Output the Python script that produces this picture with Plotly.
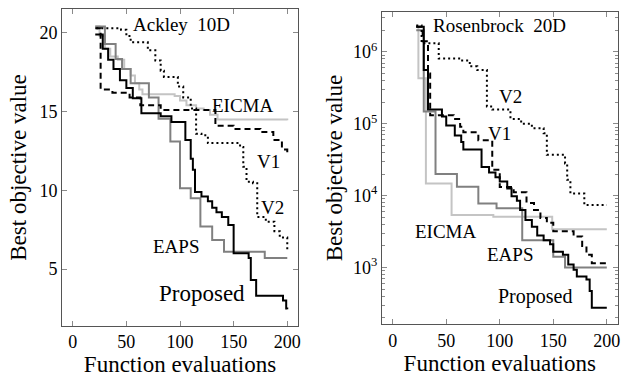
import plotly.graph_objects as go

# ---------------- Data: Ackley 10D (left) ----------------
ack_prop_x = [21, 28, 33, 38, 44, 50, 56, 64, 82, 92, 105, 110, 112, 114, 120, 126, 130, 134, 139, 145, 150, 164, 166, 171, 196, 199, 200]
ack_prop_y = [19.9, 19.0, 18.3, 17.7, 17.0, 16.5, 15.85, 14.9, 14.7, 14.34, 13.2, 12.0, 11.3, 9.9, 9.6, 9.3, 8.9, 8.6, 8.3, 7.8, 6.0, 5.7, 4.3, 3.3, 3.0, 2.5, 2.45]

ack_eaps_x = [21, 30, 40, 46, 54, 71, 80, 91, 100, 110, 119, 130, 141, 179, 200]
ack_eaps_y = [20.4, 19.3, 18.35, 17.7, 16.8, 15.9, 14.55, 13.1, 10.13, 9.5, 7.7, 6.85, 6.1, 5.7, 5.7]

ack_eicma_x = [21, 25, 30, 35, 42, 48, 54, 58, 62, 65, 95, 100, 106, 115, 122, 128, 135, 200]
ack_eicma_y = [20.4, 19.8, 19.0, 18.5, 18.3, 17.7, 17.3, 16.8, 16.4, 16.1, 16.0, 15.7, 15.4, 15.2, 15.1, 14.8, 14.5, 14.45]

ack_v1_x = [21, 26, 37, 53, 63, 82, 133, 150, 175, 187, 195, 200]
ack_v1_y = [20.3, 16.4, 16.2, 15.9, 15.4, 15.1, 14.1, 13.9, 13.7, 13.2, 12.6, 12.4]

ack_v2_x = [22, 45, 50, 54, 62, 70, 77, 82, 85, 95, 98, 103, 110, 115, 120, 126, 156, 159, 162, 168, 172, 180, 188, 193, 200]
ack_v2_y = [20.3, 20.2, 19.8, 19.4, 19.4, 18.9, 18.25, 17.6, 17.2, 17.2, 16.6, 15.9, 15.2, 13.6, 13.5, 13.0, 12.76, 11.5, 10.55, 10.45, 8.3, 8.0, 7.4, 7.0, 6.1]

# ---------------- Data: Rosenbrock 20D (right) ----------------
ros_prop_x = [22, 29, 33, 46, 50, 58, 64, 66, 83, 90, 96, 100, 107, 111, 116, 119, 124, 130, 135, 141, 147, 150, 159, 164, 169, 172, 181, 184, 186, 200]
ros_prop_y = [2.24e6, 5.6e5, 1.58e5, 1.26e5, 9.5e4, 6.9e4, 5.6e4, 4.4e4, 2.5e4, 2.1e4, 1.8e4, 1.58e4, 1.26e4, 9.8e3, 8.5e3, 6.3e3, 4.6e3, 3.7e3, 2.8e3, 2.4e3, 2.1e3, 1.66e3, 1.5e3, 1.1e3, 930, 750, 680, 470, 275, 275]

ros_eaps_x = [22, 29, 40, 60, 80, 97, 121, 150, 161, 200]
ros_eaps_y = [2.0e6, 1.48e5, 2.0e4, 1.33e4, 7.8e3, 6.7e3, 2.4e3, 1.41e3, 1.0e3, 1.0e3]

ros_eicma_x = [22, 24, 31, 55, 94, 149, 200]
ros_eicma_y = [2.24e6, 4.3e5, 1.48e4, 5.4e3, 5.1e3, 3.4e3, 3.4e3]

ros_v1_x = [22, 28, 33, 35, 57, 63, 66, 80, 93, 100, 113, 125, 132, 138, 144, 150, 169, 177, 181, 186, 200]
ros_v1_y = [2.24e6, 1.41e6, 5.0e5, 1.32e5, 1.17e5, 9.1e4, 7.6e4, 5.9e4, 2.3e4, 1.32e4, 1.12e4, 7.9e3, 6.3e3, 4.9e3, 4.2e3, 3.2e3, 2.7e3, 2.0e3, 1.5e3, 1.15e3, 1.1e3]

ros_v2_x = [22, 27, 43, 63, 72, 79, 88, 93, 110, 120, 130, 141, 144, 161, 163, 166, 179, 200]
ros_v2_y = [2.34e6, 1.32e6, 8.1e5, 7.6e5, 6.3e5, 5.6e5, 1.74e5, 1.58e5, 1.17e5, 1.0e5, 8.7e4, 7.4e4, 3.7e4, 2.8e4, 1.66e4, 1.07e4, 7.4e3, 7.4e3]

x_ticks = [0, 50, 100, 150, 200]
ack_y_ticks = [5, 10, 15, 20]
ros_y_ticks = [1e3, 1e4, 1e5, 1e6]
ros_y_ticktext = ["10<sup>3</sup>", "10<sup>4</sup>", "10<sup>5</sup>", "10<sup>6</sup>"]

FONT = "Liberation Serif"

styles = {
    "prop": dict(color="black", width=2, dash="solid"),
    "eaps": dict(color="#808080", width=2, dash="solid"),
    "eicma": dict(color="#c4c4c4", width=2, dash="solid"),
    "v1": dict(color="black", width=2, dash="6px,4px"),
    "v2": dict(color="black", width=2, dash="2px,3px"),
}

fig = go.Figure()

def add(x, y, key, xa, ya):
    fig.add_trace(go.Scatter(x=x, y=y, mode="lines", line=dict(shape="hv", **styles[key]),
                             xaxis=xa, yaxis=ya, showlegend=False, hoverinfo="skip"))

add(ack_eicma_x, ack_eicma_y, "eicma", "x", "y")
add(ack_eaps_x, ack_eaps_y, "eaps", "x", "y")
add(ack_v2_x, ack_v2_y, "v2", "x", "y")
add(ack_v1_x, ack_v1_y, "v1", "x", "y")
add(ack_prop_x, ack_prop_y, "prop", "x", "y")

add(ros_eicma_x, ros_eicma_y, "eicma", "x2", "y2")
add(ros_eaps_x, ros_eaps_y, "eaps", "x2", "y2")
add(ros_v2_x, ros_v2_y, "v2", "x2", "y2")
add(ros_v1_x, ros_v1_y, "v1", "x2", "y2")
add(ros_prop_x, ros_prop_y, "prop", "x2", "y2")

W, H = 621, 378
axis_common = dict(showline=True, linecolor="#555555", linewidth=1, mirror="ticks",
                   ticks="inside", ticklen=5, tickcolor="#8a8a8a", tickwidth=1,
                   showgrid=False, zeroline=False, automargin=False,
                   tickfont=dict(family=FONT, size=18, color="black"))
title_font = dict(family=FONT, size=23, color="black")

minor_vals = [k * 10 ** d for d in range(2, 7) for k in range(2, 10)]

fig.update_layout(
    width=W, height=H,
    margin=dict(l=0, r=0, t=0, b=0, autoexpand=False),
    paper_bgcolor="white", plot_bgcolor="white",
    xaxis=dict(domain=[62 / W, 298 / W], range=[-10, 210], tickvals=x_ticks, anchor="y",
               title=dict(text="Function evaluations", font=title_font, standoff=4), **axis_common),
    yaxis=dict(domain=[1 - 325.7 / H, 1 - 9.3 / H], range=[1.4, 21.5], tickvals=ack_y_ticks, anchor="x",
               title=dict(text="Best objective value", font=title_font, standoff=6), **axis_common),
    xaxis2=dict(domain=[382 / W, 617.5 / W], range=[-10, 210], tickvals=x_ticks, anchor="y2",
                title=dict(text="Function evaluations", font=title_font, standoff=4), **axis_common),
    yaxis2=dict(domain=[1 - 324.3 / H, 1 - 11.7 / H], type="log", range=[2.21, 6.56],
                tickvals=ros_y_ticks, ticktext=ros_y_ticktext, anchor="x2",
                minor=dict(ticks="inside", ticklen=3, tickcolor="#8a8a8a", tickvals=minor_vals),
                title=dict(text="Best objective value", font=title_font, standoff=4), **axis_common),
)

def label(text, x, y, xref, yref, size=19):
    fig.add_annotation(text=text, x=x, y=y, xref=xref, yref=yref, showarrow=False,
                       font=dict(family=FONT, size=size, color="black"),
                       xanchor="center", yanchor="middle")

label("Ackley  10D", 101, 20.55, "x", "y")
label("EICMA", 158.8, 15.4, "x", "y")
label("V1", 182.5, 11.8, "x", "y")
label("V2", 185.8, 8.9, "x", "y")
label("EAPS", 96.5, 6.4, "x", "y")
label("Proposed", 120.2, 3.44, "x", "y", size=23)

label("Rosenbrock  20D", 99.5, 6.37, "x2", "y2")
label("V2", 110.3, 5.38, "x2", "y2")
label("V1", 99.5, 4.87, "x2", "y2")
label("EICMA", 50.1, 3.50, "x2", "y2")
label("EAPS", 109.8, 3.18, "x2", "y2")
label("Proposed", 133.1, 2.60, "x2", "y2", size=20)

fig.write_html("out.html", config={"displayModeBar": False},
               post_script="document.body.style.margin='0';document.body.style.overflow='hidden';")
